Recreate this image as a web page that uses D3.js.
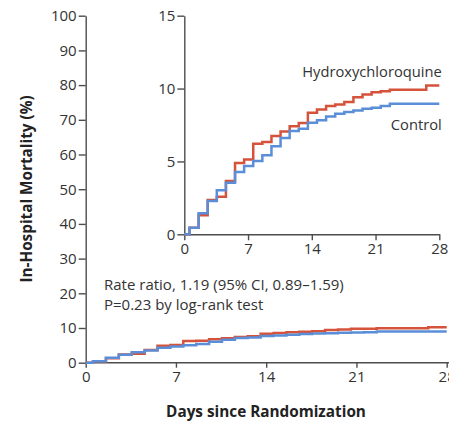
<!DOCTYPE html>
<html>
<head>
<meta charset="utf-8">
<script src="https://cdn.jsdelivr.net/npm/d3@7"></script>
<style>
  html, body { margin: 0; padding: 0; background: #fff; }
  svg { display: block; }
  text { font-family: "Open Sans", "Noto Sans", sans-serif; fill: #333; }
  .axis path, .axis line { stroke: #4d4d4d; stroke-width: 1.4; }
  .axis text { font-size: 15px; fill: #333; }
</style>
</head>
<body>
<svg id="chart" width="449" height="423"></svg>
<script>
// Cumulative in-hospital mortality (%), Kaplan-Meier style step curves
const stepDays = [0.57, 1.57, 2.57, 3.57, 4.57, 5.57, 6.57, 7.57, 8.57, 9.57,
                  10.57, 11.57, 12.57, 13.57, 14.57, 15.57, 16.57, 17.57, 18.57, 19.57,
                  20.57, 21.57, 22.57, 23.57, 24.57, 25.57, 26.57, 27.57];
const hydroxychloroquine = [0.45, 1.30, 2.35, 2.57, 3.65, 4.90, 5.13, 6.22, 6.33, 6.74,
                            7.06, 7.41, 7.63, 8.34, 8.57, 8.80, 8.91, 9.07, 9.41, 9.60,
                            9.75, 9.82, 9.92, 9.92, 9.92, 9.92, 10.21, 10.21];
const control = [0.45, 1.44, 2.28, 3.03, 3.53, 4.28, 4.69, 5.03, 5.42, 6.04,
                 6.61, 7.09, 7.25, 7.66, 7.82, 8.09, 8.28, 8.39, 8.50, 8.62,
                 8.69, 8.80, 8.96, 8.96, 8.96, 8.96, 8.96, 8.96];
const xTicks = [0, 7, 14, 21, 28];
const mainYTicks = [0, 10, 20, 30, 40, 50, 60, 70, 80, 90, 100];
const insetYTicks = [0, 5, 10, 15];
const seriesNames = ["Hydroxychloroquine", "Control"];
const annotation = ["Rate ratio, 1.19 (95% CI, 0.89\u20131.59)", "P=0.23 by log-rank test"];

const colors = { "Hydroxychloroquine": "#d5523b", "Control": "#5b8ed8" };

function toPoints(vals) {
  const pts = [[0, 0]];
  stepDays.forEach((d, i) => pts.push([d, vals[i]]));
  pts.push([28, vals[vals.length - 1]]);
  return pts;
}
const series = [
  { name: seriesNames[0], pts: toPoints(hydroxychloroquine) },
  { name: seriesNames[1], pts: toPoints(control) }
];

const svg = d3.select("#chart");

// ---- main panel (0-100%) ----
const mx = d3.scaleLinear().domain([0, 28]).range([85.7, 446.7]);
const my = d3.scaleLinear().domain([0, 100]).range([362.7, 15.7]);

const gMain = svg.append("g");
gMain.append("g").attr("class", "axis")
  .attr("transform", `translate(0,${my(0)})`)
  .call(d3.axisBottom(mx).tickValues(xTicks).tickSize(5).tickPadding(4).tickSizeOuter(0))
  .call(g => g.select(".domain").attr("d", `M${mx(0)},0H449`));
gMain.append("g").attr("class", "axis")
  .attr("transform", `translate(${mx(0)},0)`)
  .call(d3.axisLeft(my).tickValues(mainYTicks).tickSize(7).tickPadding(2).tickSizeOuter(0));

const mainLine = d3.line().curve(d3.curveStepAfter).x(d => mx(d[0])).y(d => my(d[1]));
series.forEach(s => {
  gMain.append("path").attr("d", mainLine(s.pts))
    .attr("fill", "none").attr("stroke", colors[s.name])
    .attr("stroke-width", 2.5).attr("stroke-linejoin", "miter");
});

// annotation (baselines)
gMain.selectAll("text.note").data(annotation).join("text")
  .attr("class", "note")
  .attr("x", 104).attr("y", (d, i) => 289.5 + i * 20)
  .style("font-size", "15px")
  .text(d => d);

// axis titles
svg.append("text")
  .attr("x", 266).attr("y", 416.7)
  .attr("text-anchor", "middle")
  .style("font-size", "15.3px").style("font-weight", "bold").style("fill", "#222")
  .text("Days since Randomization");
svg.append("text")
  .attr("transform", "translate(27,189) rotate(-90)")
  .attr("dy", "0.35em")
  .attr("text-anchor", "middle")
  .style("font-size", "15.3px").style("font-weight", "bold").style("fill", "#222")
  .text("In-Hospital Mortality (%)");

// ---- inset panel (0-15%) ----
const ix = d3.scaleLinear().domain([0, 28]).range([184.3, 439.3]);
const iy = d3.scaleLinear().domain([0, 15]).range([234.3, 15.7]);

const gInset = svg.append("g");
gInset.append("g").attr("class", "axis")
  .attr("transform", `translate(0,${iy(0)})`)
  .call(d3.axisBottom(ix).tickValues(xTicks).tickSize(6).tickPadding(3).tickSizeOuter(0));
gInset.append("g").attr("class", "axis")
  .attr("transform", `translate(${ix(0)},0)`)
  .call(d3.axisLeft(iy).tickValues(insetYTicks).tickSize(7).tickPadding(2).tickSizeOuter(0));

const insetLine = d3.line().curve(d3.curveStepAfter).x(d => ix(d[0])).y(d => iy(d[1]));
series.forEach(s => {
  gInset.append("path").attr("d", insetLine(s.pts))
    .attr("fill", "none").attr("stroke", colors[s.name])
    .attr("stroke-width", 2.5).attr("stroke-linejoin", "miter");
});

// series labels (baselines)
gInset.append("text")
  .attr("x", 441.7).attr("y", 76.7)
  .attr("text-anchor", "end").style("font-size", "14.7px")
  .text(seriesNames[0]);
gInset.append("text")
  .attr("x", 441.7).attr("y", 130)
  .attr("text-anchor", "end").style("font-size", "14.7px")
  .text(seriesNames[1]);
</script>
</body>
</html>
